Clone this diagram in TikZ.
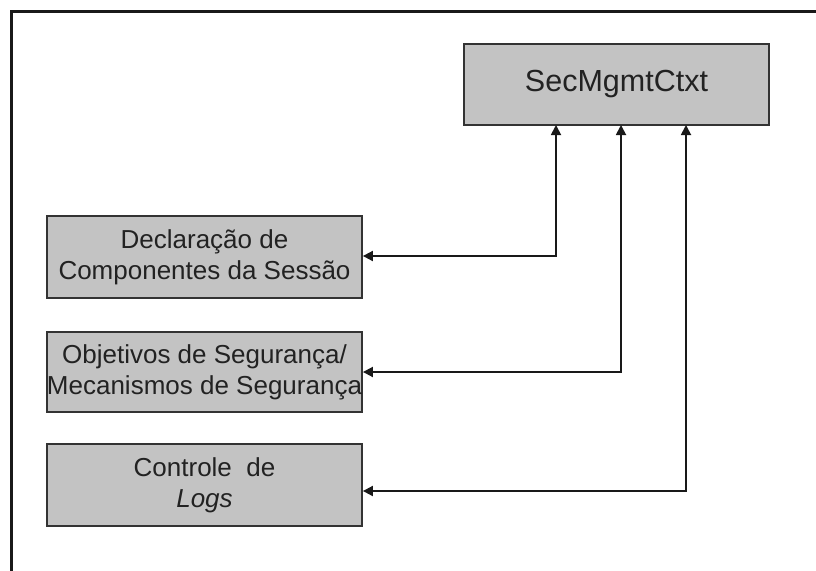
\documentclass[tikz,border=0pt]{standalone}
\usepackage{fontspec}
\setmainfont{Liberation Sans}
\usetikzlibrary{arrows.meta,calc}
\definecolor{boxgray}{HTML}{C3C3C3}
\definecolor{txt}{HTML}{222222}
\tikzset{
  box/.style={draw=black!80, line width=1.8pt, fill=boxgray, inner sep=0pt, align=center, text=txt,
    font=\fontsize{26}{31}\selectfont},
  conn/.style={draw=black!90, line width=1.8pt, {Triangle[length=10pt,width=10pt]}-{Triangle[length=10pt,width=10pt]}},
  frame/.style={draw=black!90, line width=3.5pt}
}
\begin{document}
\begin{tikzpicture}[x=1pt,y=-1pt]
\useasboundingbox (0,0) rectangle (816,570);
\coordinate (fl) at (11.5,572);
\coordinate (fc) at (11.5,11.5);
\coordinate (fr) at (818,11.5);
\draw[frame] (fl) -- (fc) -- (fr);
\node[box, minimum width=305pt, minimum height=81pt, font=\fontsize{30.5}{34}\selectfont] (sec) at (616.5,84.5) {SecMgmtCtxt};
\node[box, minimum width=315pt, minimum height=82pt] (d1) at (204.5,257) {Declaração de\\Componentes da Sessão};
\node[box, minimum width=315pt, minimum height=80pt] (d2) at (204.5,372) {Objetivos de Segurança/\\Mecanismos de Segurança};
\node[box, minimum width=315pt, minimum height=82pt] (d3) at (204.5,485) {Controle\ \ de\\\textit{Logs}};
\coordinate (s1) at (556,125);
\coordinate (s2) at (621,125);
\coordinate (s3) at (686,125);
\draw[conn] ($(d1.east)+(0,-1)$) -| (s1);
\draw[conn] (d2.east) -| (s2);
\draw[conn] ($(d3.east)+(0,6)$) -| (s3);
\end{tikzpicture}
\end{document}
